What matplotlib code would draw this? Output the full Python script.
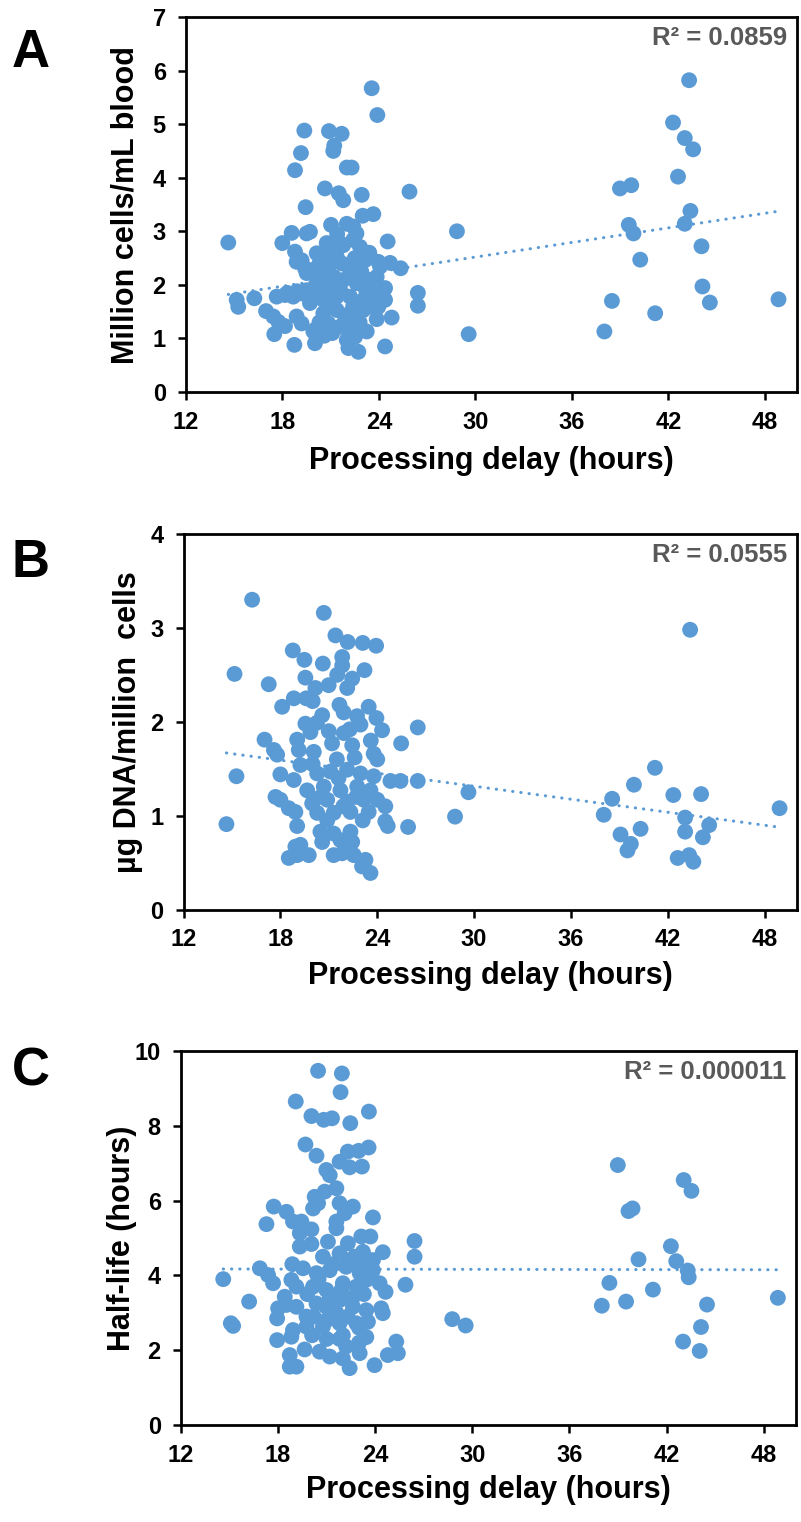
import matplotlib
matplotlib.use("Agg")
import matplotlib.pyplot as plt
import numpy as np

plt.rcParams['font.family'] = ['Liberation Sans', 'DejaVu Sans']
plt.rcParams['font.weight'] = 'bold'

# ---------------- data ----------------
x_ticks = [12, 18, 24, 30, 36, 42, 48]
x_label = "Processing delay (hours)"
panel_letters = ["A", "B", "C"]
y_labels = ["Million cells/mL blood", "\u00b5g DNA/million  cells", "Half-life (hours)"]
r2_labels = ["R\u00b2 = 0.0859", "R\u00b2 = 0.0555", "R\u00b2 = 0.000011"]
y_ticks_a = [0, 1, 2, 3, 4, 5, 6, 7]
y_ticks_b = [0, 1, 2, 3, 4]
y_ticks_c = [0, 2, 4, 6, 8, 10]

# trendline (slope, intercept)
trend_a = (0.0454, 1.157)
trend_b = (-0.0231, 2.007)
trend_c = (-0.0006, 4.18)

delay_a = [
    14.63, 15.15, 15.25, 16.25, 16.98, 17.43, 17.74, 18.16, 17.49, 18.74,
    17.99, 18.57, 18.78, 19.44, 18.78, 19.15, 19.36, 20.89, 21.68, 21.22,
    21.16, 22.00, 22.30, 23.55, 23.90, 20.64, 21.50, 21.78, 22.93, 21.02,
    22.00, 22.99, 23.65, 19.50, 19.71, 24.54, 22.60, 22.40, 24.69, 23.96,
    24.79, 24.38, 23.86, 23.24, 22.72, 22.10, 20.02, 19.92, 19.19, 18.88,
    20.85, 22.51, 17.64, 18.16, 18.67, 19.19, 19.50, 18.88, 24.27, 24.38,
    24.07, 23.13, 22.82, 22.40, 20.75, 20.13, 21.16, 21.78, 23.96, 21.58,
    19.19, 19.40, 20.54, 21.37, 19.92, 20.75, 22.20, 23.86, 23.55, 24.38,
    18.30, 18.90, 19.50, 20.13, 20.96, 21.78, 22.61, 20.54, 21.37, 22.20,
    23.03, 23.86, 19.71, 20.02, 20.54, 21.37, 22.20, 23.03, 22.30, 22.00,
    21.58, 20.30, 21.00, 21.70, 22.50, 20.30, 20.80, 21.60, 22.40, 23.20,
    21.20, 22.90, 20.30, 21.10, 21.90, 22.80, 23.50, 21.40, 20.30, 23.40,
    20.60, 23.30,
    25.35, 25.90, 26.42, 26.42, 28.85, 29.58,
    38.02, 38.49, 38.99, 39.54, 39.69, 39.83, 40.25, 41.18, 42.29, 42.60,
    43.02, 43.02, 43.29, 43.37, 43.54, 44.06, 44.12, 44.58, 48.85]
cells_a = [
    2.79, 1.72, 1.59, 1.75, 1.51, 1.41, 1.31, 1.23, 1.08, 0.88,
    2.78, 2.97, 2.62, 3.45, 4.14, 4.46, 4.88, 4.87, 4.82, 4.60,
    4.50, 4.19, 4.19, 5.67, 5.17, 3.80, 3.71, 3.58, 3.68, 3.12,
    3.14, 3.29, 3.32, 2.96, 2.99, 2.81, 2.96, 3.09, 2.41, 2.43,
    1.39, 0.85, 1.36, 1.13, 0.75, 0.82, 0.91, 1.13, 1.28, 1.41,
    1.28, 1.03, 1.78, 1.81, 1.78, 1.84, 2.22, 2.43, 1.90, 1.72,
    2.34, 2.46, 2.71, 2.84, 2.78, 2.59, 2.71, 2.74, 1.59, 2.78,
    2.46, 2.31, 2.56, 2.53, 2.28, 2.22, 2.28, 2.15, 1.97, 1.94,
    1.85, 1.88, 1.90, 2.03, 1.97, 2.09, 2.03, 1.72, 1.78, 1.78,
    1.72, 1.78, 1.66, 1.16, 1.47, 1.53, 1.47, 1.53, 1.20, 0.97,
    1.22, 2.40, 2.40, 2.40, 2.50, 1.80, 1.60, 1.90, 1.60, 1.90,
    2.15, 2.25, 1.30, 1.10, 1.35, 1.30, 1.60, 2.95, 2.05, 2.60,
    1.05, 2.10,
    2.31, 3.74, 1.85, 1.61, 3.00, 1.08,
    1.13, 1.70, 3.80, 3.12, 3.86, 2.96, 2.47, 1.47, 5.03, 4.02,
    4.74, 3.14, 5.82, 3.38, 4.53, 2.72, 1.97, 1.67, 1.73]

delay_b = [
    16.25, 15.16, 15.28, 14.66, 20.69, 17.28, 18.77, 19.49, 20.63, 21.41,
    22.17, 23.10, 23.93, 21.83, 21.83, 23.21, 19.55, 21.52, 22.45, 20.17,
    20.99, 22.14, 18.83, 18.11, 19.60, 20.00, 21.66, 23.47, 20.59, 21.92,
    22.75, 23.95, 19.55, 20.27, 22.96, 24.30, 21.93, 19.86, 17.02, 19.04,
    17.60, 17.80, 19.14, 20.07, 21.20, 22.45, 23.78, 24.00, 19.24, 18.00,
    18.83, 20.28, 21.10, 22.14, 22.96, 23.78, 24.82, 19.66, 20.69, 21.72,
    22.76, 23.58, 17.70, 18.00, 19.97, 20.90, 22.14, 23.16, 24.00, 24.50,
    18.52, 18.93, 20.28, 21.30, 22.34, 23.47, 19.04, 24.50, 24.65, 20.48,
    21.30, 22.34, 20.59, 21.72, 22.45, 18.93, 19.24, 18.52, 19.76, 19.04,
    21.30, 21.83, 22.55, 23.27, 23.06, 23.58, 20.00, 21.50, 22.60, 21.00,
    22.30, 20.50, 21.90, 23.10, 20.90, 21.60, 22.70, 23.60,
    25.44, 25.48, 25.91, 26.51, 26.51, 28.82, 29.65,
    38.03, 38.55, 39.07, 39.50, 39.71, 39.90, 40.31, 41.20, 42.34, 42.61,
    43.07, 43.07, 43.32, 43.38, 43.58, 44.06, 44.17, 44.56, 48.92]
dna_b = [
    3.30, 2.51, 1.42, 0.91, 3.16, 2.40, 2.76, 2.66, 2.62, 2.92,
    2.85, 2.84, 2.81, 2.69, 2.60, 2.55, 2.47, 2.50, 2.46, 2.36,
    2.39, 2.36, 2.25, 2.16, 2.25, 2.22, 2.18, 2.16, 2.07, 2.10,
    2.06, 2.04, 1.98, 1.99, 1.97, 1.91, 1.88, 1.89, 1.81, 1.81,
    1.70, 1.65, 1.70, 1.68, 1.77, 1.75, 1.66, 1.60, 1.54, 1.44,
    1.38, 1.45, 1.47, 1.49, 1.45, 1.42, 1.37, 1.27, 1.31, 1.27,
    1.31, 1.27, 1.20, 1.17, 1.13, 1.17, 1.15, 1.17, 1.17, 1.10,
    1.08, 1.04, 1.03, 1.03, 1.04, 1.04, 0.89, 0.94, 0.89, 0.83,
    0.81, 0.83, 0.72, 0.74, 0.72, 0.67, 0.69, 0.55, 0.58, 0.58,
    0.58, 0.60, 0.58, 0.53, 0.46, 0.39, 1.55, 1.60, 1.62, 1.90,
    1.92, 1.20, 1.10, 0.95, 0.95, 1.40, 1.20, 1.80,
    1.37, 1.77, 0.88, 1.94, 1.37, 0.99, 1.25,
    1.01, 1.18, 0.80, 0.63, 0.70, 1.33, 0.86, 1.51, 1.22, 0.55,
    0.98, 0.83, 0.58, 2.98, 0.51, 1.23, 0.77, 0.90, 1.08]

delay_c = [
    20.47, 21.94, 21.86, 19.09, 20.06, 20.82, 21.33, 22.46, 23.61, 19.69,
    20.37, 21.80, 22.31, 22.97, 23.59, 22.42, 23.18, 20.98, 21.19, 21.60,
    20.88, 20.26, 20.16, 20.47, 17.73, 18.52, 21.80, 22.11, 22.62, 17.28,
    18.92, 19.44, 20.06, 19.34, 21.60, 21.60, 23.86, 23.14, 23.70, 22.31,
    19.34, 20.06, 21.08, 24.47, 22.73, 23.24, 20.77, 21.80, 23.86, 18.88,
    19.54, 16.87, 17.38, 17.69, 14.61, 18.82, 19.13, 20.37, 21.19, 22.20,
    23.04, 23.86, 20.16, 20.98, 22.00, 22.83, 23.45, 24.27, 24.64, 16.21,
    18.41, 18.52, 18.00, 17.94, 19.13, 19.75, 20.37, 20.98, 21.80, 22.62,
    23.45, 19.75, 20.77, 21.80, 22.83, 24.37, 24.47, 15.08, 15.22, 23.55,
    17.94, 18.92, 18.82, 19.64, 20.57, 21.19, 21.80, 22.20, 23.00, 23.45,
    22.00, 22.42, 23.04, 18.72, 18.72, 19.13, 23.96, 19.80, 20.50, 21.20,
    21.90, 22.60, 23.30, 20.20, 21.00, 21.60, 22.30, 23.00, 21.40, 22.40,
    23.10, 21.00, 22.00, 20.10,
    24.78, 25.30, 25.40, 25.87, 26.43, 26.43, 28.76, 29.59,
    38.00, 38.47, 38.99, 39.50, 39.65, 39.90, 40.27, 41.16, 42.27, 42.60,
    43.02, 43.06, 43.31, 43.37, 43.54, 44.05, 44.13, 44.50, 48.88]
halflife_c = [
    9.47, 9.40, 8.90, 8.65, 8.26, 8.16, 8.20, 8.07, 8.38, 7.50,
    7.20, 7.04, 7.31, 7.33, 7.42, 6.89, 6.91, 6.82, 6.68, 6.33,
    6.24, 6.10, 5.79, 5.93, 5.84, 5.70, 5.93, 5.66, 5.84, 5.37,
    5.44, 5.44, 5.23, 5.13, 5.44, 5.26, 5.55, 5.04, 5.04, 4.86,
    4.77, 4.84, 4.90, 4.62, 4.50, 4.63, 4.50, 4.59, 4.41, 4.30,
    4.19, 4.19, 4.01, 3.79, 3.90, 3.88, 3.70, 4.06, 4.14, 4.23,
    4.06, 4.14, 3.70, 3.61, 3.79, 3.70, 3.88, 3.79, 3.56, 3.30,
    3.43, 3.21, 3.12, 2.85, 3.16, 2.90, 3.25, 3.16, 3.34, 3.16,
    3.07, 2.63, 2.63, 2.72, 2.72, 3.12, 2.99, 2.72, 2.65, 2.76,
    2.27, 2.54, 2.36, 2.02, 1.96, 1.83, 2.30, 2.10, 2.20, 2.35,
    1.78, 1.52, 1.92, 1.87, 1.56, 1.56, 1.60, 3.50, 3.90, 3.40,
    3.60, 3.40, 3.50, 2.90, 2.80, 3.00, 2.90, 2.60, 4.30, 4.40,
    4.30, 2.30, 2.40, 2.40,
    1.87, 2.23, 1.92, 3.75, 4.92, 4.50, 2.83, 2.66,
    3.19, 3.80, 6.95, 3.30, 5.72, 5.79, 4.43, 3.62, 4.78, 4.38,
    2.23, 6.55, 4.13, 3.95, 6.26, 1.98, 2.62, 3.22, 3.40]

# ---------------- layout ----------------
W, H = 801, 1522
BLUE = "#5B9BD5"
GREY = "#595959"

fig = plt.figure(figsize=(W / 100, H / 100), dpi=100)

# axes rectangles in pixels: left, top, right, bottom
rects = [(186, 17, 797, 392), (183.5, 534, 797, 909.6), (181, 1051, 796, 1425)]
panels = [
    (delay_a, cells_a, trend_a, y_ticks_a, (0, 7)),
    (delay_b, dna_b, trend_b, y_ticks_b, (0, 4)),
    (delay_c, halflife_c, trend_c, y_ticks_c, (0, 10)),
]
letter_pos = [(31, 53), (31, 563), (31, 1072)]
ylabel_x = [125, 128, 122]
xlabel_y = [461, 976, 1490]

for i, ((l, t, r, b), (xs, ys, trend, yt, ylim)) in enumerate(zip(rects, panels)):
    ax = fig.add_axes([l / W, 1 - b / H, (r - l) / W, (b - t) / H])
    ax.scatter(xs, ys, s=130, color=BLUE, edgecolors='none', zorder=3)
    slope, icpt = trend
    tx = np.array([min(xs), max(xs)])
    ax.plot(tx, slope * tx + icpt, color=BLUE, lw=2.2,
            linestyle=(0, (0.1, 2.6)), dash_capstyle='round', zorder=4)
    ax.set_xlim(12, 50)
    ax.set_ylim(*ylim)
    ax.set_xticks(x_ticks)
    ax.set_yticks(yt)
    ax.tick_params(axis='both', direction='out', length=5.5, width=1.8,
                   labelsize=17, colors='black')
    ax.tick_params(axis='x', pad=8)
    ax.tick_params(axis='y', pad=9)
    for lab in ax.get_xticklabels() + ax.get_yticklabels():
        lab.set_fontweight('bold')
    for sp in ax.spines.values():
        sp.set_linewidth(2.0)
        sp.set_color('black')
    ax.set_ylabel(y_labels[i], fontsize=22, fontweight='bold')
    ax.yaxis.set_label_coords((ylabel_x[i] - l) / (r - l), 0.5)
    ax.set_xlabel(x_label, fontsize=22, fontweight='bold')
    ax.xaxis.set_label_coords(0.5, (b - xlabel_y[i]) / (b - t))
    ax.xaxis.label.set_va('center')
    ax.yaxis.label.set_va('center')
    ax.text(0.984, 0.976, r2_labels[i], transform=ax.transAxes, ha='right',
            va='top', fontsize=18.5, fontweight='bold', color=GREY)
    lx, ly = letter_pos[i]
    fig.text(lx / W, 1 - ly / H, panel_letters[i], fontsize=38,
             fontweight='bold', ha='center', va='center')

fig.savefig("out.png", dpi=100)
